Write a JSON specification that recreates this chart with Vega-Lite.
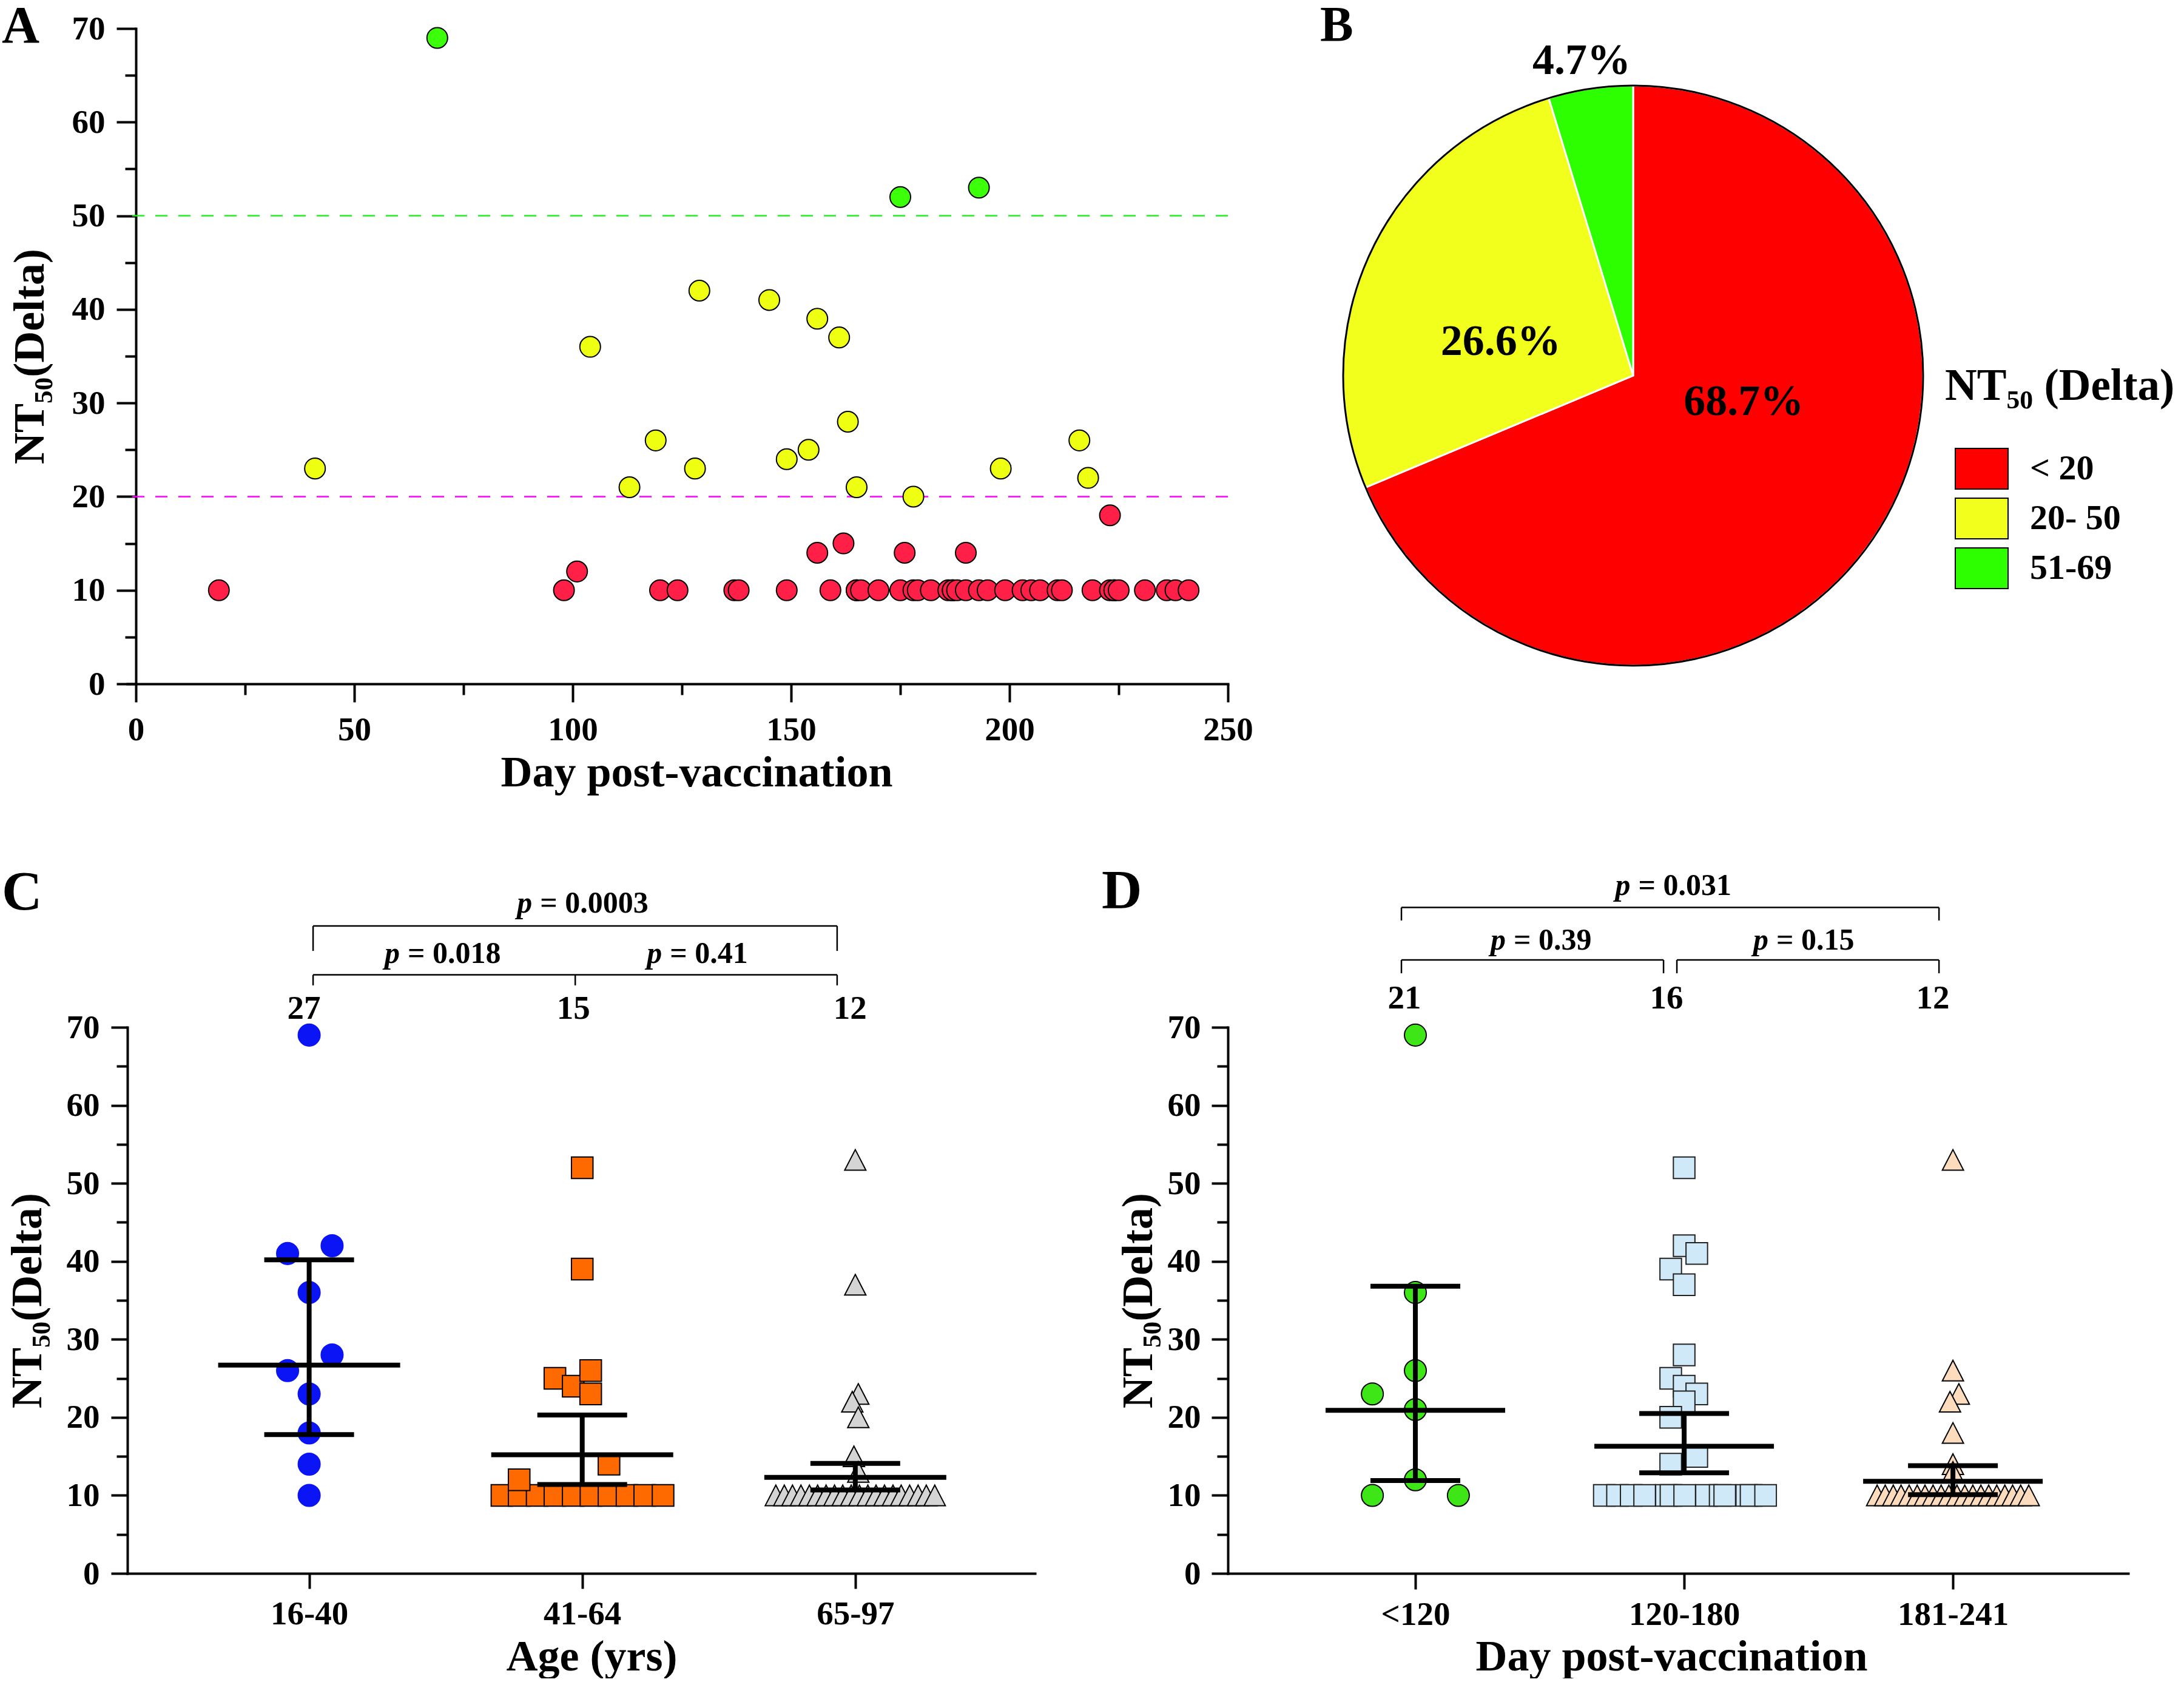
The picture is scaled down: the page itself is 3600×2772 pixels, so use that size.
{
  "$schema": "https://vega.github.io/schema/vega-lite/v6.json",
  "padding": 0,
  "background": "white",
  "config": {
    "view": {"stroke": null},
    "font": "Liberation Serif",
    "axis": {"domainColor": "black", "domainWidth": 4, "domainCap": "square", "tickColor": "black", "tickWidth": 4, "labelFont": "Liberation Serif", "labelFontSize": 55, "labelFontWeight": "bold", "labelColor": "black", "labelLimit": 0, "titleFont": "Liberation Serif", "titleFontSize": 72, "titleFontWeight": "bold", "titleColor": "black", "titleLimit": 0, "grid": false, "labelOverlap": false, "labelFlush": false, "labelBound": false},
    "legend": {"labelLimit": 0, "titleLimit": 0},
    "text": {"font": "Liberation Serif", "fontWeight": "bold", "color": "black"}
  },
  "datasets": {
    "a": [
      {"day":19,"nt":10,"cat":"<20"},{"day":98,"nt":10,"cat":"<20"},{"day":101,"nt":12,"cat":"<20"},{"day":120,"nt":10,"cat":"<20"},{"day":124,"nt":10,"cat":"<20"},{"day":137,"nt":10,"cat":"<20"},{"day":138,"nt":10,"cat":"<20"},{"day":149,"nt":10,"cat":"<20"},{"day":156,"nt":14,"cat":"<20"},{"day":159,"nt":10,"cat":"<20"},{"day":162,"nt":15,"cat":"<20"},{"day":165,"nt":10,"cat":"<20"},{"day":165,"nt":10,"cat":"<20"},{"day":166,"nt":10,"cat":"<20"},{"day":170,"nt":10,"cat":"<20"},{"day":175,"nt":10,"cat":"<20"},{"day":176,"nt":14,"cat":"<20"},{"day":178,"nt":10,"cat":"<20"},{"day":179,"nt":10,"cat":"<20"},{"day":182,"nt":10,"cat":"<20"},{"day":186,"nt":10,"cat":"<20"},{"day":187,"nt":10,"cat":"<20"},{"day":187,"nt":10,"cat":"<20"},{"day":188,"nt":10,"cat":"<20"},{"day":190,"nt":10,"cat":"<20"},{"day":190,"nt":14,"cat":"<20"},{"day":193,"nt":10,"cat":"<20"},{"day":195,"nt":10,"cat":"<20"},{"day":199,"nt":10,"cat":"<20"},{"day":203,"nt":10,"cat":"<20"},{"day":205,"nt":10,"cat":"<20"},{"day":207,"nt":10,"cat":"<20"},{"day":211,"nt":10,"cat":"<20"},{"day":212,"nt":10,"cat":"<20"},{"day":219,"nt":10,"cat":"<20"},{"day":223,"nt":10,"cat":"<20"},{"day":223,"nt":18,"cat":"<20"},{"day":224,"nt":10,"cat":"<20"},{"day":224,"nt":10,"cat":"<20"},{"day":225,"nt":10,"cat":"<20"},{"day":231,"nt":10,"cat":"<20"},{"day":236,"nt":10,"cat":"<20"},{"day":238,"nt":10,"cat":"<20"},{"day":241,"nt":10,"cat":"<20"},
      {"day":41,"nt":23,"cat":"20-50"},{"day":104,"nt":36,"cat":"20-50"},{"day":113,"nt":21,"cat":"20-50"},{"day":119,"nt":26,"cat":"20-50"},{"day":128,"nt":23,"cat":"20-50"},{"day":129,"nt":42,"cat":"20-50"},{"day":145,"nt":41,"cat":"20-50"},{"day":149,"nt":24,"cat":"20-50"},{"day":154,"nt":25,"cat":"20-50"},{"day":156,"nt":39,"cat":"20-50"},{"day":161,"nt":37,"cat":"20-50"},{"day":163,"nt":28,"cat":"20-50"},{"day":165,"nt":21,"cat":"20-50"},{"day":178,"nt":20,"cat":"20-50"},{"day":198,"nt":23,"cat":"20-50"},{"day":216,"nt":26,"cat":"20-50"},{"day":218,"nt":22,"cat":"20-50"},
      {"day":69,"nt":69,"cat":"51-69"},{"day":175,"nt":52,"cat":"51-69"},{"day":193,"nt":53,"cat":"51-69"}
    ],
    "athr": [{"level":50,"kind":"upper"},{"level":20,"kind":"lower"}],
    "pie": [
      {"cat":"< 20","pct":68.7,"label":"68.7%","k":1},
      {"cat":"20- 50","pct":26.6,"label":"26.6%","k":2},
      {"cat":"51-69","pct":4.7,"label":"4.7%","k":3}
    ],
    "c_pts": [
      {"g":1,"group":"16-40","off":0,"nt":69},{"g":1,"group":"16-40","off":-0.079,"nt":41},{"g":1,"group":"16-40","off":0.084,"nt":42},{"g":1,"group":"16-40","off":0,"nt":36},{"g":1,"group":"16-40","off":0.084,"nt":28},{"g":1,"group":"16-40","off":-0.079,"nt":26},{"g":1,"group":"16-40","off":0,"nt":23},{"g":1,"group":"16-40","off":0,"nt":18},{"g":1,"group":"16-40","off":0,"nt":14},{"g":1,"group":"16-40","off":0,"nt":10},
      {"g":2,"group":"41-64","off":-0.294,"nt":10},{"g":2,"group":"41-64","off":-0.231,"nt":10},{"g":2,"group":"41-64","off":-0.165,"nt":10},{"g":2,"group":"41-64","off":-0.1,"nt":10},{"g":2,"group":"41-64","off":-0.033,"nt":10},{"g":2,"group":"41-64","off":0.032,"nt":10},{"g":2,"group":"41-64","off":0.098,"nt":10},{"g":2,"group":"41-64","off":0.164,"nt":10},{"g":2,"group":"41-64","off":0.229,"nt":10},{"g":2,"group":"41-64","off":0.296,"nt":10},
      {"g":2,"group":"41-64","off":0,"nt":52},{"g":2,"group":"41-64","off":0,"nt":39},{"g":2,"group":"41-64","off":-0.1,"nt":25},{"g":2,"group":"41-64","off":-0.033,"nt":24},{"g":2,"group":"41-64","off":0.031,"nt":26},{"g":2,"group":"41-64","off":0.031,"nt":23},{"g":2,"group":"41-64","off":0.098,"nt":14},{"g":2,"group":"41-64","off":-0.231,"nt":12},
      {"g":3,"group":"65-97","off":-0.291,"nt":10},{"g":3,"group":"65-97","off":-0.26,"nt":10},{"g":3,"group":"65-97","off":-0.23,"nt":10},{"g":3,"group":"65-97","off":-0.199,"nt":10},{"g":3,"group":"65-97","off":-0.168,"nt":10},{"g":3,"group":"65-97","off":-0.138,"nt":10},{"g":3,"group":"65-97","off":-0.107,"nt":10},{"g":3,"group":"65-97","off":-0.076,"nt":10},{"g":3,"group":"65-97","off":-0.046,"nt":10},{"g":3,"group":"65-97","off":-0.015,"nt":10},{"g":3,"group":"65-97","off":0.015,"nt":10},{"g":3,"group":"65-97","off":0.046,"nt":10},{"g":3,"group":"65-97","off":0.076,"nt":10},{"g":3,"group":"65-97","off":0.107,"nt":10},{"g":3,"group":"65-97","off":0.138,"nt":10},{"g":3,"group":"65-97","off":0.168,"nt":10},{"g":3,"group":"65-97","off":0.199,"nt":10},{"g":3,"group":"65-97","off":0.23,"nt":10},{"g":3,"group":"65-97","off":0.26,"nt":10},{"g":3,"group":"65-97","off":0.291,"nt":10},
      {"g":3,"group":"65-97","off":0,"nt":53},{"g":3,"group":"65-97","off":0,"nt":37},{"g":3,"group":"65-97","off":0.011,"nt":23},{"g":3,"group":"65-97","off":-0.011,"nt":22},{"g":3,"group":"65-97","off":0.011,"nt":20},{"g":3,"group":"65-97","off":-0.005,"nt":15},{"g":3,"group":"65-97","off":0.011,"nt":13}
    ],
    "c_stats": [
      {"g":1,"med":26.7,"q1":17.8,"q3":40.2},
      {"g":2,"med":15.2,"q1":11.4,"q3":20.3},
      {"g":3,"med":12.3,"q1":10.7,"q3":14.1}
    ],
    "c_br": [
      {"x":1.0144,"x2":2.9335,"y":82.98,"y2":82.98},{"x":1.0144,"x2":1.0144,"y":82.98,"y2":79.79},{"x":2.9335,"x2":2.9335,"y":82.98,"y2":79.79},
      {"x":1.0144,"x2":2.9335,"y":76.72,"y2":76.72},{"x":1.0144,"x2":1.0144,"y":76.72,"y2":75.37},{"x":1.9744,"x2":1.9744,"y":76.72,"y2":75.37},{"x":2.9335,"x2":2.9335,"y":76.72,"y2":75.37}
    ],
    "c_p": [
      {"x":1.8166,"y":84.7,"p":"= 0.0003"},
      {"x":1.3322,"y":78.25,"p":"= 0.018"},
      {"x":2.2922,"y":78.25,"p":"= 0.41"}
    ],
    "c_n": [
      {"x":0.9811,"y":71.09,"n":"27"},
      {"x":1.9678,"y":71.09,"n":"15"},
      {"x":2.981,"y":71.09,"n":"12"}
    ],
    "d_pts": [
      {"g":1,"group":"<120","off":0,"nt":69},{"g":1,"group":"<120","off":0,"nt":36},{"g":1,"group":"<120","off":0,"nt":26},{"g":1,"group":"<120","off":-0.16,"nt":23},{"g":1,"group":"<120","off":0,"nt":21},{"g":1,"group":"<120","off":0,"nt":12},{"g":1,"group":"<120","off":-0.16,"nt":10},{"g":1,"group":"<120","off":0.16,"nt":10},
      {"g":2,"group":"120-180","off":-0.297,"nt":10},{"g":2,"group":"120-180","off":-0.248,"nt":10},{"g":2,"group":"120-180","off":-0.197,"nt":10},{"g":2,"group":"120-180","off":-0.147,"nt":10},{"g":2,"group":"120-180","off":-0.066,"nt":10},{"g":2,"group":"120-180","off":-0.049,"nt":10},{"g":2,"group":"120-180","off":0.002,"nt":10},{"g":2,"group":"120-180","off":0.083,"nt":10},{"g":2,"group":"120-180","off":0.134,"nt":10},{"g":2,"group":"120-180","off":0.151,"nt":10},{"g":2,"group":"120-180","off":0.233,"nt":10},{"g":2,"group":"120-180","off":0.249,"nt":10},{"g":2,"group":"120-180","off":0.303,"nt":10},
      {"g":2,"group":"120-180","off":0,"nt":52},{"g":2,"group":"120-180","off":0,"nt":42},{"g":2,"group":"120-180","off":0.047,"nt":41},{"g":2,"group":"120-180","off":-0.05,"nt":39},{"g":2,"group":"120-180","off":0,"nt":37},{"g":2,"group":"120-180","off":0,"nt":28},{"g":2,"group":"120-180","off":-0.05,"nt":25},{"g":2,"group":"120-180","off":0,"nt":24},{"g":2,"group":"120-180","off":0.047,"nt":23},{"g":2,"group":"120-180","off":0,"nt":22},{"g":2,"group":"120-180","off":-0.05,"nt":20},{"g":2,"group":"120-180","off":0.047,"nt":15},{"g":2,"group":"120-180","off":-0.05,"nt":14},
      {"g":3,"group":"181-241","off":-0.282,"nt":10},{"g":3,"group":"181-241","off":-0.252,"nt":10},{"g":3,"group":"181-241","off":-0.222,"nt":10},{"g":3,"group":"181-241","off":-0.193,"nt":10},{"g":3,"group":"181-241","off":-0.163,"nt":10},{"g":3,"group":"181-241","off":-0.133,"nt":10},{"g":3,"group":"181-241","off":-0.104,"nt":10},{"g":3,"group":"181-241","off":-0.074,"nt":10},{"g":3,"group":"181-241","off":-0.044,"nt":10},{"g":3,"group":"181-241","off":-0.015,"nt":10},{"g":3,"group":"181-241","off":0.015,"nt":10},{"g":3,"group":"181-241","off":0.044,"nt":10},{"g":3,"group":"181-241","off":0.074,"nt":10},{"g":3,"group":"181-241","off":0.104,"nt":10},{"g":3,"group":"181-241","off":0.133,"nt":10},{"g":3,"group":"181-241","off":0.163,"nt":10},{"g":3,"group":"181-241","off":0.193,"nt":10},{"g":3,"group":"181-241","off":0.222,"nt":10},{"g":3,"group":"181-241","off":0.252,"nt":10},{"g":3,"group":"181-241","off":0.282,"nt":10},
      {"g":3,"group":"181-241","off":0,"nt":53},{"g":3,"group":"181-241","off":0,"nt":26},{"g":3,"group":"181-241","off":0.022,"nt":23},{"g":3,"group":"181-241","off":-0.011,"nt":22},{"g":3,"group":"181-241","off":0,"nt":18},{"g":3,"group":"181-241","off":0,"nt":14},{"g":3,"group":"181-241","off":0,"nt":13}
    ],
    "d_stats": [
      {"g":1,"med":20.9,"q1":11.9,"q3":36.8},
      {"g":2,"med":16.3,"q1":12.9,"q3":20.5},
      {"g":3,"med":11.8,"q1":10.1,"q3":13.8}
    ],
    "d_br": [
      {"x":0.9481,"x2":2.9481,"y":85.36,"y2":85.36},{"x":0.9481,"x2":0.9481,"y":85.36,"y2":83.69},{"x":2.9481,"x2":2.9481,"y":85.36,"y2":83.69},
      {"x":0.9481,"x2":1.9233,"y":78.63,"y2":78.63},{"x":0.9481,"x2":0.9481,"y":78.63,"y2":76.92},{"x":1.9233,"x2":1.9233,"y":78.63,"y2":76.92},
      {"x":1.9729,"x2":2.9481,"y":78.63,"y2":78.63},{"x":1.9729,"x2":1.9729,"y":78.63,"y2":76.92},{"x":2.9481,"x2":2.9481,"y":78.63,"y2":76.92}
    ],
    "d_p": [
      {"x":1.8,"y":86.96,"p":"= 0.031"},
      {"x":1.3364,"y":79.92,"p":"= 0.39"},
      {"x":2.3138,"y":79.92,"p":"= 0.15"}
    ],
    "d_n": [
      {"x":0.9594,"y":72.41,"n":"21"},
      {"x":1.9346,"y":72.41,"n":"16"},
      {"x":2.9255,"y":72.41,"n":"12"}
    ]
  },
  "columns": 2,
  "spacing": {"row": 502, "column": 0},
  "bounds": "flush",
  "align": "all",
  "resolve": {"scale": {"color": "independent", "fill": "independent", "stroke": "independent", "shape": "independent", "size": "independent", "theta": "independent"}, "legend": {"color": "independent", "fill": "independent", "stroke": "independent", "shape": "independent", "size": "independent"}},
  "concat": [
    {
      "width": 1814,
      "height": 1080,
      "resolve": {"axis": {"x": "independent", "y": "independent"}},
      "layer": [
        {
          "data": {"name": "a"},
          "mark": {"type": "point", "opacity": 0},
          "encoding": {
            "x": {"field": "day", "type": "quantitative", "scale": {"domain": [-1.944, 250], "nice": false, "zero": false}, "axis": {"orient": "bottom", "values": [25, 75, 125, 175, 225], "labels": false, "domain": false, "tickSize": 18, "title": null}},
            "y": {"field": "nt", "type": "quantitative", "scale": {"domain": [0, 70], "nice": false, "zero": false}, "axis": {"orient": "left", "offset": -14, "values": [5, 15, 25, 35, 45, 55, 65], "labels": false, "domain": false, "tickSize": 18, "title": null}}
          }
        },
        {
          "data": {"name": "athr"},
          "mark": {"type": "rule", "strokeWidth": 2.5, "strokeDash": [20, 18]},
          "encoding": {
            "y": {"field": "level", "type": "quantitative", "scale": {"domain": [0, 70], "nice": false, "zero": false}, "axis": null},
            "color": {"field": "kind", "type": "nominal", "scale": {"domain": ["upper", "lower"], "range": ["#22f022", "#ff00ff"]}, "legend": null}
          }
        },
        {
          "data": {"name": "a"},
          "mark": {"type": "point", "shape": "circle", "filled": true, "size": 1160, "stroke": "black", "strokeWidth": 2, "opacity": 1},
          "encoding": {
            "x": {"field": "day", "type": "quantitative", "scale": {"domain": [-1.944, 250], "nice": false, "zero": false}, "axis": {"orient": "bottom", "values": [0, 50, 100, 150, 200, 250], "tickSize": 30, "labelPadding": 19, "title": "Day post-vaccination", "titleX": 938, "titleY": 168, "titleAlign": "center", "titleBaseline": "alphabetic"}},
            "y": {"field": "nt", "type": "quantitative", "scale": {"domain": [0, 70], "nice": false, "zero": false}, "axis": {"orient": "left", "offset": -14, "values": [0, 10, 20, 30, 40, 50, 60, 70], "tickSize": 32, "labelPadding": 19, "title": "NT₅₀(Delta)", "titleX": -153, "titleAngle": 270, "titleAlign": "center", "titleBaseline": "alphabetic"}},
            "fill": {"field": "cat", "type": "nominal", "scale": {"domain": ["<20", "20-50", "51-69"], "range": ["#ff1f47", "#eeff12", "#3cff0a"]}, "legend": null}
          }
        },
        {
          "data": {"values": [{"t": "A"}]},
          "mark": {"type": "text", "fontSize": 86, "align": "left", "baseline": "alphabetic"},
          "encoding": {
            "x": {"datum": -30.69, "type": "quantitative", "scale": {"domain": [-1.944, 250], "nice": false, "zero": false}, "axis": null},
            "y": {"datum": 68.51, "type": "quantitative", "scale": {"domain": [0, 70], "nice": false, "zero": false}, "axis": null},
            "text": {"field": "t"}
          }
        },
        {
          "data": {"values": [{"t": "anchor"}]},
          "mark": {"type": "rect", "opacity": 0},
          "encoding": {
            "x": {"datum": -30.972, "type": "quantitative", "scale": {"domain": [-1.944, 250], "nice": false, "zero": false}, "axis": null},
            "x2": {"datum": -30.6},
            "y": {"datum": 72.981, "type": "quantitative", "scale": {"domain": [0, 70], "nice": false, "zero": false}, "axis": null},
            "y2": {"datum": 72.6}
          }
        }
      ]
    },
    {
      "width": 1336,
      "height": 1144,
      "layer": [
        {
          "data": {"name": "pie"},
          "mark": {"type": "arc", "outerRadius": 478, "stroke": "white", "strokeWidth": 3},
          "encoding": {
            "theta": {"field": "pct", "type": "quantitative", "stack": true, "scale": {"domain": [0, 100]}},
            "order": {"field": "k", "type": "quantitative"},
            "color": {"field": "cat", "type": "nominal", "scale": {"domain": ["< 20", "20- 50", "51-69"], "range": ["#ff0000", "#f2ff1c", "#2dff00"]},
              "legend": {"orient": "none", "legendX": 1182, "legendY": 554, "direction": "vertical", "title": "NT₅₀ (Delta)", "titleFont": "Liberation Serif", "titleFontSize": 73, "titleFontWeight": "bold", "titleColor": "black", "titlePadding": 54, "labelFont": "Liberation Serif", "labelFontSize": 58, "labelFontWeight": "bold", "labelColor": "black", "labelOffset": 35, "symbolType": "M-1,-0.77H1V0.77H-1Z", "symbolSize": 7569, "symbolStrokeColor": "black", "symbolStrokeWidth": 2, "symbolOffset": 16, "symbolOpacity": 1, "rowPadding": 0, "padding": 0}}
          }
        },
        {
          "data": {"name": "pie"},
          "mark": {"type": "arc", "outerRadius": 478, "fillOpacity": 0, "stroke": "black", "strokeWidth": 3},
          "encoding": {
            "theta": {"aggregate": "sum", "field": "pct", "type": "quantitative", "scale": {"domain": [0, 100]}}
          }
        },
        {
          "data": {"name": "pie"},
          "mark": {"type": "text", "fontSize": 72, "align": "center", "baseline": "middle",
            "radius": {"expr": "datum.k == 1 ? 190 : datum.k == 2 ? 228 : 524"},
            "dx": {"expr": "datum.k == 1 ? 24 : datum.k == 2 ? -12 : -8"},
            "dy": {"expr": "datum.k == 1 ? -62 : datum.k == 2 ? 41 : -1"}},
          "encoding": {
            "theta": {"field": "pct", "type": "quantitative", "stack": true, "scale": {"domain": [0, 100]}},
            "order": {"field": "k", "type": "quantitative"},
            "text": {"field": "label"}
          }
        },
        {
          "data": {"values": [{"t": "B"}]},
          "mark": {"type": "text", "fontSize": 82, "align": "left", "baseline": "alphabetic"},
          "encoding": {
            "x": {"datum": 0.1138, "type": "quantitative", "scale": {"domain": [0, 1], "nice": false, "zero": false}, "axis": null},
            "y": {"datum": 0.9825, "type": "quantitative", "scale": {"domain": [0, 1], "nice": false, "zero": false}, "axis": null},
            "text": {"field": "t"}
          }
        }
      ]
    },
    {
      "width": 1496,
      "height": 900,
      "resolve": {"axis": {"x": "independent", "y": "independent"}},
      "layer": [
        {
          "data": {"name": "c_pts"},
          "transform": [{"calculate": "datum.g + datum.off", "as": "pos"}],
          "mark": {"type": "point", "opacity": 0},
          "encoding": {
            "x": {"field": "pos", "type": "quantitative", "scale": {"domain": [0.3344, 3.658], "nice": false, "zero": false}, "axis": null},
            "y": {"field": "nt", "type": "quantitative", "scale": {"domain": [0, 70], "nice": false, "zero": false}, "axis": {"orient": "left", "values": [5, 15, 25, 35, 45, 55, 65], "labels": false, "domain": false, "tickSize": 18, "title": null}}
          }
        },
        {
          "data": {"name": "c_pts"},
          "transform": [{"calculate": "datum.g + datum.off", "as": "pos"}],
          "mark": {"type": "point", "filled": true, "opacity": 1, "strokeWidth": 2},
          "encoding": {
            "x": {"field": "pos", "type": "quantitative", "scale": {"domain": [0.3344, 3.658], "nice": false, "zero": false}, "axis": {"orient": "bottom", "values": [1, 2, 3], "labelExpr": "datum.value == 1 ? '16-40' : datum.value == 2 ? '41-64' : '65-97'", "tickSize": 25, "labelPadding": 15, "title": "Age (yrs)", "titleX": 765, "titleY": 159, "titleAlign": "center", "titleBaseline": "alphabetic"}},
            "y": {"field": "nt", "type": "quantitative", "scale": {"domain": [0, 70], "nice": false, "zero": false}, "axis": {"orient": "left", "values": [0, 10, 20, 30, 40, 50, 60, 70], "tickSize": 27, "labelPadding": 19, "title": "NT₅₀(Delta)", "titleX": -143, "titleAngle": 270, "titleAlign": "center", "titleBaseline": "alphabetic"}},
            "shape": {"field": "group", "type": "nominal", "scale": {"domain": ["16-40", "41-64", "65-97"], "range": ["circle", "square", "M0,-0.97L1,0.97L-1,0.97Z"]}, "legend": null},
            "fill": {"field": "group", "type": "nominal", "scale": {"domain": ["16-40", "41-64", "65-97"], "range": ["#0a14f5", "#ff6a00", "#d4d4d4"]}, "legend": null},
            "stroke": {"field": "group", "type": "nominal", "scale": {"domain": ["16-40", "41-64", "65-97"], "range": ["#0a14f5", "#000000", "#000000"]}, "legend": null},
            "size": {"field": "group", "type": "nominal", "scale": {"domain": ["16-40", "41-64", "65-97"], "range": [1300, 1225, 1369]}, "legend": null}
          }
        },
        {
          "data": {"name": "c_stats"},
          "mark": {"type": "rule", "strokeWidth": 8, "color": "black"},
          "encoding": {
            "x": {"field": "g", "type": "quantitative", "scale": {"domain": [0.3344, 3.658], "nice": false, "zero": false}, "axis": null},
            "y": {"field": "q1", "type": "quantitative", "scale": {"domain": [0, 70], "nice": false, "zero": false}, "axis": null},
            "y2": {"field": "q3"}
          }
        },
        {
          "data": {"name": "c_stats"},
          "mark": {"type": "tick", "orient": "horizontal", "size": 300, "thickness": 8, "color": "black", "opacity": 1},
          "encoding": {
            "x": {"field": "g", "type": "quantitative", "scale": {"domain": [0.3344, 3.658], "nice": false, "zero": false}, "axis": null},
            "y": {"field": "med", "type": "quantitative", "scale": {"domain": [0, 70], "nice": false, "zero": false}, "axis": null}
          }
        },
        {
          "data": {"name": "c_stats"},
          "mark": {"type": "tick", "orient": "horizontal", "size": 148, "thickness": 8, "color": "black", "opacity": 1},
          "encoding": {
            "x": {"field": "g", "type": "quantitative", "scale": {"domain": [0.3344, 3.658], "nice": false, "zero": false}, "axis": null},
            "y": {"field": "q1", "type": "quantitative", "scale": {"domain": [0, 70], "nice": false, "zero": false}, "axis": null}
          }
        },
        {
          "data": {"name": "c_stats"},
          "mark": {"type": "tick", "orient": "horizontal", "size": 148, "thickness": 8, "color": "black", "opacity": 1},
          "encoding": {
            "x": {"field": "g", "type": "quantitative", "scale": {"domain": [0.3344, 3.658], "nice": false, "zero": false}, "axis": null},
            "y": {"field": "q3", "type": "quantitative", "scale": {"domain": [0, 70], "nice": false, "zero": false}, "axis": null}
          }
        },
        {
          "data": {"name": "c_br"},
          "mark": {"type": "rule", "strokeWidth": 2.5, "color": "black"},
          "encoding": {
            "x": {"field": "x", "type": "quantitative", "scale": {"domain": [0.3344, 3.658], "nice": false, "zero": false}, "axis": null},
            "x2": {"field": "x2"},
            "y": {"field": "y", "type": "quantitative", "scale": {"domain": [0, 70], "nice": false, "zero": false}, "axis": null},
            "y2": {"field": "y2"}
          }
        },
        {
          "data": {"name": "c_p"},
          "mark": {"type": "text", "text": "p", "fontStyle": "italic", "fontSize": 50, "align": "right", "baseline": "alphabetic"},
          "encoding": {
            "x": {"field": "x", "type": "quantitative", "scale": {"domain": [0.3344, 3.658], "nice": false, "zero": false}, "axis": null},
            "y": {"field": "y", "type": "quantitative", "scale": {"domain": [0, 70], "nice": false, "zero": false}, "axis": null}
          }
        },
        {
          "data": {"name": "c_p"},
          "mark": {"type": "text", "fontSize": 50, "align": "left", "baseline": "alphabetic", "dx": 13},
          "encoding": {
            "x": {"field": "x", "type": "quantitative", "scale": {"domain": [0.3344, 3.658], "nice": false, "zero": false}, "axis": null},
            "y": {"field": "y", "type": "quantitative", "scale": {"domain": [0, 70], "nice": false, "zero": false}, "axis": null},
            "text": {"field": "p"}
          }
        },
        {
          "data": {"name": "c_n"},
          "mark": {"type": "text", "fontSize": 55, "align": "center", "baseline": "alphabetic"},
          "encoding": {
            "x": {"field": "x", "type": "quantitative", "scale": {"domain": [0.3344, 3.658], "nice": false, "zero": false}, "axis": null},
            "y": {"field": "y", "type": "quantitative", "scale": {"domain": [0, 70], "nice": false, "zero": false}, "axis": null},
            "text": {"field": "n"}
          }
        },
        {
          "data": {"values": [{"t": "C"}]},
          "mark": {"type": "text", "fontSize": 92, "align": "left", "baseline": "alphabetic"},
          "encoding": {
            "x": {"datum": -0.1256, "type": "quantitative", "scale": {"domain": [0.3344, 3.658], "nice": false, "zero": false}, "axis": null},
            "y": {"datum": 85.09, "type": "quantitative", "scale": {"domain": [0, 70], "nice": false, "zero": false}, "axis": null},
            "text": {"field": "t"}
          }
        }
      ]
    },
    {
      "width": 1484,
      "height": 900,
      "resolve": {"axis": {"x": "independent", "y": "independent"}},
      "layer": [
        {
          "data": {"name": "d_pts"},
          "transform": [{"calculate": "datum.g + datum.off", "as": "pos"}],
          "mark": {"type": "point", "opacity": 0},
          "encoding": {
            "x": {"field": "pos", "type": "quantitative", "scale": {"domain": [0.3025, 3.652], "nice": false, "zero": false}, "axis": null},
            "y": {"field": "nt", "type": "quantitative", "scale": {"domain": [0, 70], "nice": false, "zero": false}, "axis": {"orient": "left", "values": [5, 15, 25, 35, 45, 55, 65], "labels": false, "domain": false, "tickSize": 18, "title": null}}
          }
        },
        {
          "data": {"name": "d_pts"},
          "transform": [{"calculate": "datum.g + datum.off", "as": "pos"}],
          "mark": {"type": "point", "filled": true, "opacity": 1, "strokeWidth": 2},
          "encoding": {
            "x": {"field": "pos", "type": "quantitative", "scale": {"domain": [0.3025, 3.652], "nice": false, "zero": false}, "axis": {"orient": "bottom", "values": [1, 2, 3], "labelExpr": "datum.value == 1 ? '<120' : datum.value == 2 ? '120-180' : '181-241'", "tickSize": 26, "labelPadding": 15, "title": "Day post-vaccination", "titleX": 731, "titleY": 159, "titleAlign": "center", "titleBaseline": "alphabetic"}},
            "y": {"field": "nt", "type": "quantitative", "scale": {"domain": [0, 70], "nice": false, "zero": false}, "axis": {"orient": "left", "values": [0, 10, 20, 30, 40, 50, 60, 70], "tickSize": 27, "labelPadding": 18, "title": "NT₅₀(Delta)", "titleX": -126, "titleAngle": 270, "titleAlign": "center", "titleBaseline": "alphabetic"}},
            "shape": {"field": "group", "type": "nominal", "scale": {"domain": ["<120", "120-180", "181-241"], "range": ["circle", "square", "M0,-0.97L1,0.97L-1,0.97Z"]}, "legend": null},
            "fill": {"field": "group", "type": "nominal", "scale": {"domain": ["<120", "120-180", "181-241"], "range": ["#3ee617", "#cfe9f8", "#fddcbd"]}, "legend": null},
            "stroke": {"field": "group", "type": "nominal", "scale": {"domain": ["<120", "120-180", "181-241"], "range": ["#000000", "#222222", "#000000"]}, "legend": null},
            "size": {"field": "group", "type": "nominal", "scale": {"domain": ["<120", "120-180", "181-241"], "range": [1300, 1225, 1369]}, "legend": null}
          }
        },
        {
          "data": {"name": "d_stats"},
          "mark": {"type": "rule", "strokeWidth": 8, "color": "black"},
          "encoding": {
            "x": {"field": "g", "type": "quantitative", "scale": {"domain": [0.3025, 3.652], "nice": false, "zero": false}, "axis": null},
            "y": {"field": "q1", "type": "quantitative", "scale": {"domain": [0, 70], "nice": false, "zero": false}, "axis": null},
            "y2": {"field": "q3"}
          }
        },
        {
          "data": {"name": "d_stats"},
          "mark": {"type": "tick", "orient": "horizontal", "size": 296, "thickness": 8, "color": "black", "opacity": 1},
          "encoding": {
            "x": {"field": "g", "type": "quantitative", "scale": {"domain": [0.3025, 3.652], "nice": false, "zero": false}, "axis": null},
            "y": {"field": "med", "type": "quantitative", "scale": {"domain": [0, 70], "nice": false, "zero": false}, "axis": null}
          }
        },
        {
          "data": {"name": "d_stats"},
          "mark": {"type": "tick", "orient": "horizontal", "size": 148, "thickness": 8, "color": "black", "opacity": 1},
          "encoding": {
            "x": {"field": "g", "type": "quantitative", "scale": {"domain": [0.3025, 3.652], "nice": false, "zero": false}, "axis": null},
            "y": {"field": "q1", "type": "quantitative", "scale": {"domain": [0, 70], "nice": false, "zero": false}, "axis": null}
          }
        },
        {
          "data": {"name": "d_stats"},
          "mark": {"type": "tick", "orient": "horizontal", "size": 148, "thickness": 8, "color": "black", "opacity": 1},
          "encoding": {
            "x": {"field": "g", "type": "quantitative", "scale": {"domain": [0.3025, 3.652], "nice": false, "zero": false}, "axis": null},
            "y": {"field": "q3", "type": "quantitative", "scale": {"domain": [0, 70], "nice": false, "zero": false}, "axis": null}
          }
        },
        {
          "data": {"name": "d_br"},
          "mark": {"type": "rule", "strokeWidth": 2.5, "color": "black"},
          "encoding": {
            "x": {"field": "x", "type": "quantitative", "scale": {"domain": [0.3025, 3.652], "nice": false, "zero": false}, "axis": null},
            "x2": {"field": "x2"},
            "y": {"field": "y", "type": "quantitative", "scale": {"domain": [0, 70], "nice": false, "zero": false}, "axis": null},
            "y2": {"field": "y2"}
          }
        },
        {
          "data": {"name": "d_p"},
          "mark": {"type": "text", "text": "p", "fontStyle": "italic", "fontSize": 50, "align": "right", "baseline": "alphabetic"},
          "encoding": {
            "x": {"field": "x", "type": "quantitative", "scale": {"domain": [0.3025, 3.652], "nice": false, "zero": false}, "axis": null},
            "y": {"field": "y", "type": "quantitative", "scale": {"domain": [0, 70], "nice": false, "zero": false}, "axis": null}
          }
        },
        {
          "data": {"name": "d_p"},
          "mark": {"type": "text", "fontSize": 50, "align": "left", "baseline": "alphabetic", "dx": 13},
          "encoding": {
            "x": {"field": "x", "type": "quantitative", "scale": {"domain": [0.3025, 3.652], "nice": false, "zero": false}, "axis": null},
            "y": {"field": "y", "type": "quantitative", "scale": {"domain": [0, 70], "nice": false, "zero": false}, "axis": null},
            "text": {"field": "p"}
          }
        },
        {
          "data": {"name": "d_n"},
          "mark": {"type": "text", "fontSize": 55, "align": "center", "baseline": "alphabetic"},
          "encoding": {
            "x": {"field": "x", "type": "quantitative", "scale": {"domain": [0.3025, 3.652], "nice": false, "zero": false}, "axis": null},
            "y": {"field": "y", "type": "quantitative", "scale": {"domain": [0, 70], "nice": false, "zero": false}, "axis": null},
            "text": {"field": "n"}
          }
        },
        {
          "data": {"values": [{"t": "D"}]},
          "mark": {"type": "text", "fontSize": 92, "align": "left", "baseline": "alphabetic"},
          "encoding": {
            "x": {"datum": -0.167, "type": "quantitative", "scale": {"domain": [0.3025, 3.652], "nice": false, "zero": false}, "axis": null},
            "y": {"datum": 85.25, "type": "quantitative", "scale": {"domain": [0, 70], "nice": false, "zero": false}, "axis": null},
            "text": {"field": "t"}
          }
        }
      ]
    }
  ]
}
